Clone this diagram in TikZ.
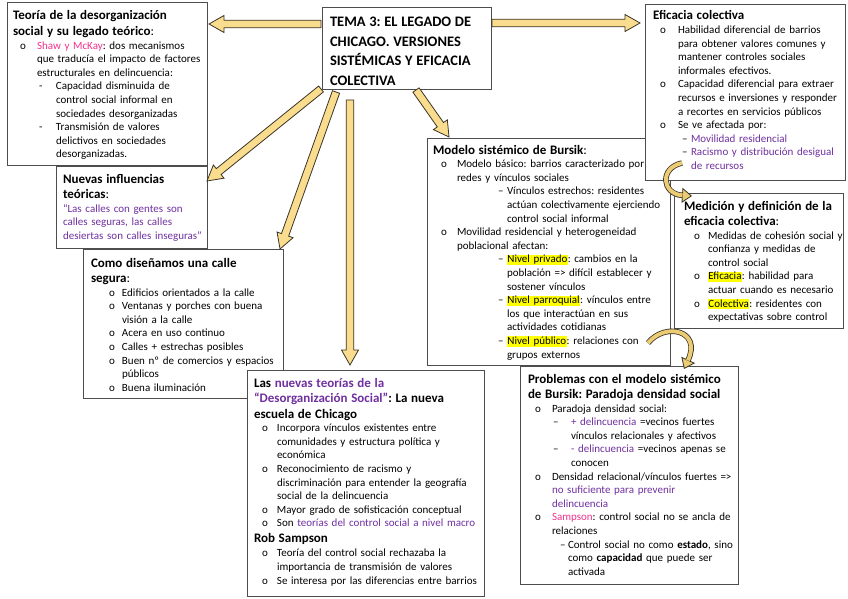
\documentclass[tikz,border=0pt]{standalone}
\usepackage{fontspec}
\setmainfont{Carlito}
\usetikzlibrary{arrows.meta,calc}
\definecolor{arrfill}{HTML}{F9DC8E}
\definecolor{carrfill}{HTML}{EBCB74}
\definecolor{arrline}{HTML}{3A3526}
\definecolor{purp}{HTML}{7030A0}
\definecolor{pinkc}{HTML}{F0328C}
\definecolor{hly}{HTML}{FFFF00}
\definecolor{boxline}{HTML}{4D4D4D}
\frenchspacing
\newcommand\hlt[1]{{\setlength{\fboxsep}{0.4pt}\colorbox{hly}{\vphantom{Ay}#1}}}
\newcommand\il[4]{\par\hangindent=#2\hangafter=1\noindent\hspace*{#1}\makebox[\dimexpr#2-#1\relax][l]{#3}#4}
\newcommand\nl{\newline}
\newcommand\bodyf{\fontsize{11}{13.6}\selectfont\frenchspacing}
\newcommand\titf{\fontsize{13}{15.5}\selectfont\bfseries}
\newcommand\blockarr[2]{%
  \path let \p1=(#1), \p2=(#2) in \pgfextra{%
    \pgfmathsetmacro\tmpang{atan2(\y2-\y1,\x2-\x1)}%
    \pgfmathsetmacro\tmplen{veclen(\x2-\x1,\y2-\y1)}%
    \xdef\arrang{\tmpang}\xdef\arrlen{\tmplen}};
  \draw[blockst, shift={(#1)}, rotate=\arrang]
    (0pt,-3.8pt) -- ({(\arrlen-15)*1pt},-3.8pt) -- ({(\arrlen-15)*1pt},-8.5pt)
    -- ({\arrlen*1pt},0pt) -- ({(\arrlen-15)*1pt},8.5pt) -- ({(\arrlen-15)*1pt},3.8pt)
    -- (0pt,3.8pt) -- cycle;
}
\begin{document}
\begin{tikzpicture}[x=1pt,y=-1pt,
  boxst/.style={draw=boxline, line width=1pt, fill=white, anchor=north west, inner sep=0pt, outer sep=0pt},
  txt/.style={anchor=base west, inner sep=0pt, outer sep=0pt, text width=#1, font=\bodyf},
  blockst/.style={draw=arrline, line width=0.8pt, fill=arrfill, line join=miter},
  cshaft/.style={line width=5.5pt, draw=arrline, -{Triangle[width=15pt,length=10pt,fill=carrfill,line width=0.8pt]}},
  cinner/.style={line width=3.9pt, draw=carrfill, shorten >=9.5pt},
]
\useasboundingbox[fill=white] (0,0) rectangle (848,599);

% boxes
\node[boxst, minimum width=200pt, minimum height=162pt] (teoria) at (7,3) {};
\node[txt=192pt] (teoriaT) at (13,20) {\raggedright
{\titf Teoría de la desorganización\\social y su legado teórico\mdseries:\par}
\il{7pt}{24pt}{o}{\textcolor{pinkc}{Shaw y McKay}: dos mecanismos\nl que traducía el impacto de factores\nl estructurales en delincuencia:}
\il{26pt}{43pt}{-}{Capacidad disminuida de\nl control social informal en\nl sociedades desorganizadas}
\il{26pt}{43pt}{-}{Transmisión de valores\nl delictivos en sociedades\nl desorganizadas.}\par};

\node[boxst, minimum width=151pt, minimum height=82pt] (nuevas) at (56,166) {};
\node[txt=145pt] (nuevasT) at (63,183) {\raggedright
{\titf Nuevas influencias\\teóricas\mdseries:\par}
{\color{purp}“Las calles con gentes son\\calles seguras, las calles\\desiertas son calles inseguras”\par}};

\node[boxst, minimum width=200pt, minimum height=149pt] (como) at (83,249) {};
\node[txt=192pt] (comoT) at (91,267) {\raggedright
{\titf Como diseñamos una calle\\segura\mdseries:\par}
\il{18pt}{31pt}{o}{Edificios orientados a la calle}
\il{18pt}{31pt}{o}{Ventanas y porches con buena\nl visión a la calle}
\il{18pt}{31pt}{o}{Acera en uso continuo}
\il{18pt}{31pt}{o}{Calles + estrechas posibles}
\il{18pt}{31pt}{o}{Buen nº de comercios y espacios\nl públicos}
\il{18pt}{31pt}{o}{Buena iluminación}\par};

\node[boxst, minimum width=237pt, minimum height=226pt] (las) at (247,370) {};
\node[txt=228pt] (lasT) at (254,387) {\raggedright
{\titf Las \textcolor{purp}{nuevas teorías de la\nl “Desorganización Social”}: La nueva\nl escuela de Chicago\par}
\il{8pt}{23pt}{o}{Incorpora vínculos existentes entre\nl comunidades y estructura política y\nl económica}
\il{8pt}{23pt}{o}{Reconocimiento de racismo y\nl discriminación para entender la geografía\nl social de la delincuencia}
\il{8pt}{23pt}{o}{Mayor grado de sofisticación conceptual}
\il{8pt}{23pt}{o}{Son \textcolor{purp}{teorías del control social a nivel macro}}
\par{\titf Rob Sampson\par}\vspace{1pt}
\il{8pt}{23pt}{o}{Teoría del control social rechazaba la\nl importancia de transmisión de valores}
\il{8pt}{23pt}{o}{Se interesa por las diferencias entre barrios}\par};

\node[boxst, minimum width=243pt, minimum height=227pt] (modelo) at (427,138) {};
\node[txt=234pt] (modeloT) at (433,154) {\raggedright
{\titf Modelo sistémico de Bursik\mdseries:\par}
\il{8pt}{24pt}{o}{Modelo básico: barrios caracterizado por\nl redes y vínculos sociales}
\il{65pt}{74pt}{–}{Vínculos estrechos: residentes\nl actúan colectivamente ejerciendo\nl control social informal}
\il{8pt}{24pt}{o}{Movilidad residencial y heterogeneidad\nl poblacional afectan:}
\il{65pt}{74pt}{–}{\hlt{Nivel privado}: cambios en la\nl población => difícil establecer y\nl sostener vínculos}
\il{65pt}{74pt}{–}{\hlt{Nivel parroquial}: vínculos entre\nl los que interactúan en sus\nl actividades cotidianas}
\il{65pt}{74pt}{–}{\hlt{Nivel público}: relaciones con\nl grupos externos}\par};

\node[boxst, minimum width=200pt, minimum height=175pt] (efic) at (645,5) {};
\node[txt=190pt] (eficT) at (653,20) {\raggedright
{\titf Eficacia colectiva\par}
\il{7pt}{25pt}{o}{Habilidad diferencial de barrios\nl para obtener valores comunes y\nl mantener controles sociales\nl informales efectivos.}
\il{7pt}{25pt}{o}{Capacidad diferencial para extraer\nl recursos e inversiones y responder\nl a recortes en servicios públicos}
\il{7pt}{25pt}{o}{Se ve afectada por:}
\il{29pt}{38pt}{–}{\textcolor{purp}{Movilidad residencial}}
\il{29pt}{38pt}{–}{\textcolor{purp}{Racismo y distribución desigual\nl de recursos}}\par};

\node[boxst, minimum width=169pt, minimum height=135pt] (medic) at (674,193) {};
\node[txt=160pt] (medicT) at (684,210) {\raggedright
{\titf Medición y definición de la\\eficacia colectiva\mdseries:\par}
\il{10pt}{24pt}{o}{Medidas de cohesión social y\nl confianza y medidas de\nl control social}
\il{10pt}{24pt}{o}{\hlt{Eficacia}: habilidad para\nl actuar cuando es necesario}
\il{10pt}{24pt}{o}{\hlt{Colectiva}: residentes con\nl expectativas sobre control}\par};

\node[boxst, minimum width=218pt, minimum height=218pt] (probl) at (520,366) {};
\node[txt=208pt] (problT) at (528,383) {\raggedright
{\titf Problemas con el modelo sistémico\\de Bursik: Paradoja densidad social\par}
\il{7pt}{24pt}{o}{Paradoja densidad social:}
\il{25pt}{43pt}{–}{\textcolor{purp}{+ delincuencia} =vecinos fuertes\nl vínculos relacionales y afectivos}
\il{25pt}{43pt}{–}{\textcolor{purp}{- delincuencia} =vecinos apenas se\nl conocen}
\il{7pt}{24pt}{o}{Densidad relacional/vínculos fuertes =>\nl \textcolor{purp}{no suficiente para prevenir\nl delincuencia}}
\il{7pt}{24pt}{o}{\textcolor{pinkc}{Sampson}: control social no se ancla de\nl relaciones}
\il{32pt}{40pt}{–}{Control social no como \textbf{estado}, sino\nl como \textbf{capacidad} que puede ser\nl activada}\par};

\node[boxst, minimum width=169pt, minimum height=82pt] (tema) at (322,8) {};
\node[txt=165pt] (temaT) at (330,27) {\raggedright\fontsize{14.5}{19.5}\selectfont\bfseries
TEMA 3: EL LEGADO DE\\CHICAGO. VERSIONES\\SISTÉMICAS Y EFICACIA\\COLECTIVA\par};

% arrow end points
\coordinate (a1s) at (321,24);  \coordinate (a1e) at (209,24);
\coordinate (a2s) at (492,23);  \coordinate (a2e) at (640,23);
\coordinate (a3s) at (321,89);  \coordinate (a3e) at (207,181);
\coordinate (a4s) at (336,92);  \coordinate (a4e) at (280,249);
\coordinate (a5s) at (350,100); \coordinate (a5e) at (350,365);
\coordinate (a6s) at (416,90);  \coordinate (a6e) at (449,137);
\blockarr{a1s}{a1e}
\blockarr{a2s}{a2e}
\blockarr{a3s}{a3e}
\blockarr{a4s}{a4e}
\blockarr{a5s}{a5e}
\blockarr{a6s}{a6e}

% curved arrows
\coordinate (c1s) at (682,163); \coordinate (c1e) at (692,196);
\coordinate (c2s) at (648,343); \coordinate (c2e) at (684,369);
\draw[cshaft] (c1s) .. controls (659,168) and (662,194) .. (c1e);
\draw[cinner] (c1s) .. controls (659,168) and (662,194) .. (c1e);
\draw[cshaft] (c2s) .. controls (665,322) and (702,330) .. (c2e);
\draw[cinner] (c2s) .. controls (665,322) and (702,330) .. (c2e);
\end{tikzpicture}
\end{document}
